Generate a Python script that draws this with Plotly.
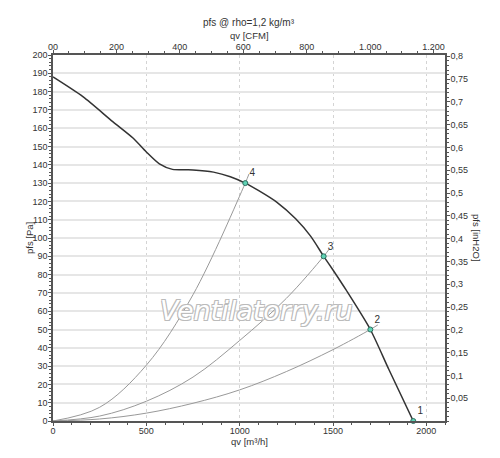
import plotly.graph_objects as go

# fan curve pfs [Pa] vs qv [m3/h]
fan_qv = [0, 160, 320, 430, 500, 570, 640, 750, 860, 950, 1030, 1100, 1200,
          1300, 1380, 1450, 1500, 1570, 1700, 1800, 1930]
fan_pfs = [188, 177.2, 163.6, 154.5, 147, 140.5, 137.5, 137.2, 136, 133.5,
           130, 126, 119.5, 110.5, 101, 90, 82.5, 71.6, 50, 28, 0]

# system curves through the operating points
sys4_qv = [0, 250, 500, 750, 1030, 1050]
sys4_pfs = [0, 7.5, 30.5, 69, 130, 135]
sys3_qv = [0, 250, 500, 750, 1000, 1250, 1450, 1480]
sys3_pfs = [0, 2.7, 10.8, 24, 44, 67, 90, 94]
sys2_qv = [0, 250, 500, 750, 1000, 1250, 1500, 1700, 1740]
sys2_pfs = [0, 1.1, 4.3, 9.7, 17, 27, 39, 50, 52.5]

# operating points
op_qv = [1930, 1700, 1450, 1030]
op_pfs = [0, 50, 90, 130]
op_labels = ["1", "2", "3", "4"]

# axis ticks
qv_ticks = [0, 500, 1000, 1500, 2000]
cfm_ticks = [0, 200, 400, 600, 800, 1000, 1200]
cfm_labels = ["00", "200", "400", "600", "800", "1.000", "1.200"]
inh2o_ticks = [0.05, 0.1, 0.15, 0.2, 0.25, 0.3, 0.35, 0.4, 0.45, 0.5, 0.55,
               0.6, 0.65, 0.7, 0.75, 0.8]
inh2o_labels = ["0,05", "0,1", "0,15", "0,2", "0,25", "0,3", "0,35", "0,4",
                "0,45", "0,5", "0,55", "0,6", "0,65", "0,7", "0,75", "0,8"]

QV_MAX = 2100
PFS_MAX = 200
CFM_PER_M3H = 1 / 1.699
INH2O_PER_PA = 1 / 249.089

FONT = "Liberation Sans, Arial, sans-serif"
TXT = "#333333"
AXIS = "#555555"

fig = go.Figure()

for qv, pfs in [(sys4_qv, sys4_pfs), (sys3_qv, sys3_pfs), (sys2_qv, sys2_pfs)]:
    fig.add_trace(go.Scatter(x=qv, y=pfs, mode="lines", line_shape="spline",
                             line=dict(color="#999999", width=1),
                             hoverinfo="skip", showlegend=False))

fig.add_trace(go.Scatter(x=fan_qv, y=fan_pfs, mode="lines", line_shape="spline",
                         line=dict(color="#333333", width=1.5, smoothing=0.7),
                         showlegend=False))

fig.add_trace(go.Scatter(x=op_qv, y=op_pfs, mode="markers+text",
                         text=op_labels, textposition="top right",
                         textfont=dict(family=FONT, size=10, color=TXT),
                         marker=dict(size=5, color="#5fd3b5",
                                     line=dict(color="#2f6f60", width=1)),
                         cliponaxis=False, showlegend=False))

# invisible trace to anchor secondary axes
fig.add_trace(go.Scatter(x=[0, QV_MAX * CFM_PER_M3H], y=[0, PFS_MAX * INH2O_PER_PA],
                         xaxis="x2", yaxis="y2", mode="markers",
                         marker=dict(opacity=0), hoverinfo="skip", showlegend=False))

fig.add_annotation(text="<i>Ventilatorry.ru</i>", xref="paper", yref="paper",
                   x=0.77, y=0.255, showarrow=False,
                   font=dict(family="DejaVu Sans, sans-serif", size=27, color="#ffffff",
                             shadow="1px 1px 0px #bbb, -1px -1px 0px #bbb, 1px -1px 0px #bbb, -1px 1px 0px #bbb"))

# titles placed by hand, offsets in pixels from the plot area
for text, x, y, dx, dy, angle, size in [
    ("pfs @ rho=1,2 kg/m³", 0.5, 1.0, 0, 33, 0, 10),
    ("qv [CFM]", 0.5, 1.0, 0, 20, 0, 9.5),
    ("qv [m³/h]", 0.5, 0.0, 0, -20, 0, 9.5),
    ("pfs [Pa]", 0.0, 0.5, -24, 0, -90, 9.5),
    ("pfs [inH2O]", 1.0, 0.5, 32, 0, 90, 9.5),
]:
    fig.add_annotation(text=text, xref="paper", yref="paper", x=x, y=y,
                       xshift=dx, yshift=dy, textangle=angle, showarrow=False,
                       xanchor="center", yanchor="middle",
                       font=dict(family=FONT, size=size, color=TXT))

tickfont = dict(family=FONT, size=9, color=TXT)
common = dict(ticks="outside", ticklen=3, tickcolor=AXIS, tickfont=tickfont,
              showline=True, linecolor=AXIS, linewidth=1.5, zeroline=False,
              automargin=False)

# page body has an 8px margin, so the margins are trimmed by that amount
fig.update_layout(
    width=500, height=458,
    margin=dict(l=45, r=63, t=47, b=45),
    paper_bgcolor="white", plot_bgcolor="white",
    xaxis=dict(range=[0, QV_MAX], tickvals=qv_ticks, showgrid=True,
               gridcolor="#d4d4d4", griddash="dot", gridwidth=1,
               ticklabelstandoff=-3,
               minor=dict(dtick=100, ticks="outside", ticklen=2, tickcolor=AXIS,
                          showgrid=False), **common),
    yaxis=dict(range=[0, PFS_MAX], dtick=10, showgrid=True, gridcolor="#e6e6e6",
               gridwidth=1.5, ticklabelstandoff=-1,
               minor=dict(dtick=2, ticks="outside", ticklen=2, tickcolor=AXIS,
                          showgrid=False), **common),
    xaxis2=dict(overlaying="x", side="top", range=[0, QV_MAX * CFM_PER_M3H],
                tickvals=cfm_ticks, ticktext=cfm_labels, showgrid=False,
                ticklabelstandoff=-3,
                minor=dict(dtick=50, ticks="outside", ticklen=2, tickcolor=AXIS),
                **common),
    yaxis2=dict(overlaying="y", side="right", range=[0, PFS_MAX * INH2O_PER_PA],
                tickvals=inh2o_ticks, ticktext=inh2o_labels, showgrid=False,
                ticklabelstandoff=-1,
                minor=dict(dtick=0.01, ticks="outside", ticklen=2, tickcolor=AXIS),
                **common),
)

fig.write_html("out.html")
